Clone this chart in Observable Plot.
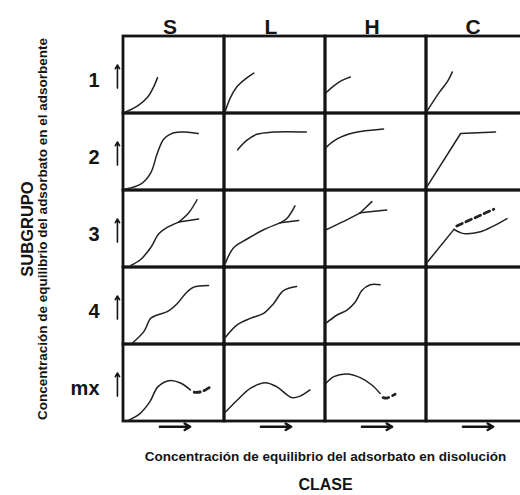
<!DOCTYPE html>
<html><head><meta charset="utf-8">
<script src="https://cdn.jsdelivr.net/npm/d3@7"></script>
<script src="https://cdn.jsdelivr.net/npm/@observablehq/plot@0.6"></script>
<style>
body{margin:0;background:#fff;overflow:hidden}
svg{font-family:"Liberation Sans",Arial,sans-serif}
</style>
</head><body><div id="chart"></div>
<script>
// Categories
const classes = ["S", "L", "H", "C"];
const subgroups = ["1", "2", "3", "4", "mx"];
const rowTitle = "SUBGRUPO";
const yTitle = "Concentración de equilibrio del adsorbato en el adsorbente";
const xTitle = "Concentración de equilibrio del adsorbato en disolución";
const colTitle = "CLASE";

// Isotherm shapes (relative concentration in solution, relative amount adsorbed)
const S1 = [[0.02,0.02],[0.14,0.10],[0.24,0.215],[0.30,0.35],[0.337,0.466]];
const L1 = [[0.01,0.04],[0.06,0.21],[0.125,0.35],[0.208,0.45],[0.29,0.525]];
const H1 = [[0.005,0.27],[0.082,0.36],[0.164,0.43],[0.246,0.475]];
const C1 = [[0.01,0.04],[0.13,0.28],[0.21,0.42],[0.256,0.54]];

const S2 = [[0.02,0.02],[0.17,0.083],[0.27,0.23],[0.334,0.48],[0.40,0.67],[0.50,0.75],[0.61,0.76],[0.74,0.74]];
const L2 = [[0.13,0.53],[0.22,0.65],[0.32,0.73],[0.485,0.76],[0.81,0.76]];
const H2 = [[0.005,0.56],[0.115,0.67],[0.28,0.75],[0.575,0.80]];
const C2 = [[0.01,0.06],[0.338,0.74],[0.683,0.76]];

const S3 = [[0.072,0.027],[0.17,0.104],[0.27,0.26],[0.351,0.44],[0.433,0.52],[0.548,0.59]];
const S3a = [[0.548,0.59],[0.646,0.71],[0.728,0.88]];
const S3b = [[0.548,0.59],[0.744,0.63]];
const L3 = [[0.01,0.06],[0.092,0.26],[0.223,0.37],[0.387,0.49],[0.551,0.58]];
const L3a = [[0.551,0.58],[0.62,0.64],[0.698,0.80]];
const L3b = [[0.551,0.58],[0.734,0.61]];
const H3 = [[0.005,0.49],[0.18,0.60],[0.344,0.71]];
const H3a = [[0.344,0.71],[0.459,0.856]];
const H3b = [[0.344,0.71],[0.606,0.748]];
const C3 = [[0.01,0.072],[0.272,0.495]];
const C3b = [[0.272,0.495],[0.37,0.44],[0.534,0.464],[0.666,0.54],[0.797,0.635]];
const C3dash = [[0.30,0.54],[0.666,0.757]];

const S4 = [[0.089,0.02],[0.203,0.17],[0.269,0.34],[0.334,0.383],[0.433,0.426],[0.531,0.53],[0.613,0.66],[0.695,0.745],[0.843,0.766]];
const L4 = [[0.01,0.094],[0.125,0.255],[0.256,0.34],[0.387,0.404],[0.485,0.53],[0.584,0.70],[0.715,0.753]];
const H4 = [[0.005,0.277],[0.115,0.383],[0.213,0.447],[0.295,0.553],[0.36,0.70],[0.443,0.775],[0.54,0.775]];

const Smx = [[0.023,0.0],[0.16,0.10],[0.26,0.254],[0.34,0.45],[0.45,0.53],[0.564,0.50],[0.662,0.41]];
const SmxDash = [[0.70,0.38],[0.77,0.386],[0.86,0.45]];
const Lmx = [[0.01,0.123],[0.125,0.276],[0.256,0.43],[0.403,0.504],[0.518,0.45],[0.666,0.31],[0.748,0.33],[0.846,0.41]];
const Hmx = [[0.005,0.496],[0.082,0.583],[0.213,0.618],[0.344,0.57],[0.459,0.474],[0.541,0.364]];
const HmxDash = [[0.57,0.31],[0.61,0.305],[0.69,0.355]];

const isotherms = [
  ["S","1",S1,"smooth"],["L","1",L1,"smooth"],["H","1",H1,"smooth"],["C","1",C1,"smooth"],
  ["S","2",S2,"smooth"],["L","2",L2,"smooth"],["H","2",H2,"smooth"],["C","2",C2,"linear"],
  ["S","3",S3,"smooth"],["S","3",S3a,"smooth"],["S","3",S3b,"smooth"],
  ["L","3",L3,"smooth"],["L","3",L3a,"smooth"],["L","3",L3b,"smooth"],
  ["H","3",H3,"smooth"],["H","3",H3a,"smooth"],["H","3",H3b,"smooth"],
  ["C","3",C3,"linear"],["C","3",C3b,"smooth"],["C","3",C3dash,"dash"],
  ["S","4",S4,"smooth"],["L","4",L4,"smooth"],["H","4",H4,"smooth"],
  ["S","mx",Smx,"smooth"],["S","mx",SmxDash,"dash"],
  ["L","mx",Lmx,"smooth"],
  ["H","mx",Hmx,"smooth"],["H","mx",HmxDash,"dash"]
];

const rows = isotherms.flatMap(([cls, sub, pts, kind], id) =>
  pts.map(([x, y]) => ({cls, sub, kind, id, x, y})));
const cells = classes.flatMap(cls => subgroups.map(sub => ({cls, sub})));
const ink = "#141414";

const chart = Plot.plot({
  width: 520,
  height: 495,
  marginLeft: 121,
  marginRight: -8,
  marginTop: 36,
  marginBottom: 74,
  fx: {domain: classes, padding: 0},
  fy: {domain: subgroups, padding: 0},
  x: {domain: [0, 1], axis: null},
  y: {domain: [0, 1], axis: null},
  marks: [
    Plot.rect(cells, {fx: "cls", fy: "sub", x1: 0, x2: 1, y1: 0, y2: 1, fill: "none", stroke: ink, strokeWidth: 2.8}),
    Plot.line(rows.filter(d => d.kind === "smooth"), {fx: "cls", fy: "sub", x: "x", y: "y", z: "id", curve: "catmull-rom", stroke: "#222", strokeWidth: 1.5}),
    Plot.line(rows.filter(d => d.kind === "linear"), {fx: "cls", fy: "sub", x: "x", y: "y", z: "id", stroke: "#222", strokeWidth: 1.5}),
    Plot.line(rows.filter(d => d.kind === "dash"), {fx: "cls", fy: "sub", x: "x", y: "y", z: "id", curve: "catmull-rom", stroke: "#222", strokeWidth: 2.8, strokeDasharray: "6,4"}),
    Plot.arrow(subgroups, {fx: () => "S", fy: d => d, x1: -0.06, x2: -0.06, y1: 0.33, y2: 0.63, stroke: ink, strokeWidth: 1.6, headLength: 4}),
    Plot.arrow(classes, {fx: d => d, fy: () => "mx", x1: 0.36, x2: 0.66, y1: -0.068, y2: -0.068, stroke: ink, strokeWidth: 2.4, headLength: 4}),
    Plot.axisFx({anchor: "top", tickSize: 0, tickPadding: 3, fontSize: 21, fontWeight: "bold", label: null, dx: -4, fill: ink}),
    Plot.axisFy({anchor: "left", tickSize: 0, tickPadding: 24, fontSize: 20, fontWeight: "bold", label: null, dy: 6, fill: ink}),
    Plot.text([rowTitle], {facet: "super", frameAnchor: "left", textAnchor: "middle", lineAnchor: "middle", rotate: -90, dx: -96, fontSize: 16.5, fontWeight: "bold", fill: ink}),
    Plot.text([yTitle], {facet: "super", frameAnchor: "left", textAnchor: "middle", lineAnchor: "middle", rotate: -90, dx: -81, fontSize: 13.5, fontWeight: "bold", fill: ink}),
    Plot.text([xTitle], {facet: "super", frameAnchor: "bottom", textAnchor: "middle", lineAnchor: "middle", dy: 35, fontSize: 13.5, fontWeight: "bold", fill: ink}),
    Plot.text([colTitle], {facet: "super", frameAnchor: "bottom", textAnchor: "middle", lineAnchor: "middle", dy: 63, fontSize: 16, fontWeight: "bold", fill: ink})
  ]
});
document.getElementById("chart").append(chart);
</script>
</body></html>
